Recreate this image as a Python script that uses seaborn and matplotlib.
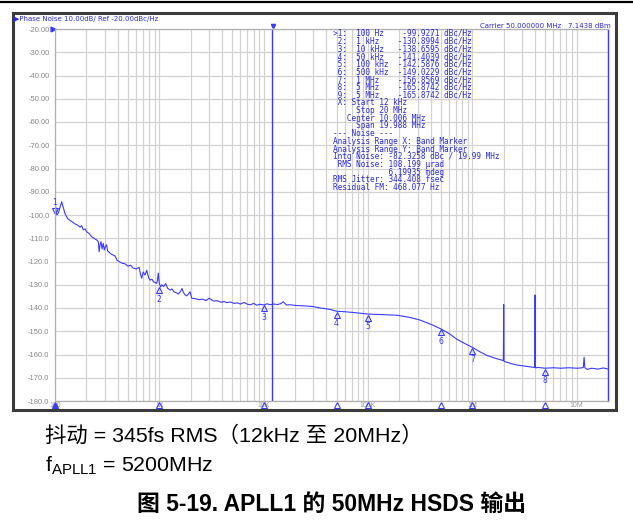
import pandas as pd
import matplotlib
matplotlib.use("Agg")
import matplotlib.pyplot as plt
import seaborn as sns
from matplotlib.patches import Rectangle
from matplotlib.lines import Line2D
from matplotlib.ticker import LogLocator, FixedLocator, NullFormatter
from matplotlib.transforms import offset_copy

# ---------------- data ----------------
freq_hz = [100, 104, 108, 112, 116, 120, 125, 132, 139, 147, 155, 164, 174, 180, 187,
           194, 201, 213, 225, 240, 252, 260, 265, 270, 276, 283, 290, 297, 305, 312,
           320, 330, 345, 360, 376, 395, 420, 445, 469, 500, 530, 560, 600, 640, 660,
           678, 700, 730, 757, 790, 814, 850, 880, 910, 944, 960, 978, 1000, 1030, 1054,
           1100, 1150, 1200, 1267, 1320, 1380, 1450, 1520, 1600, 1650, 1699, 1760, 1830,
           1900, 1969, 2045, 2200, 2400, 2600, 2800, 3000, 3300, 3600, 3900, 4200, 4429,
           4800, 5200, 5600, 6000, 6500, 7000, 7500, 8000, 8600, 9236, 10000, 10800,
           11600, 12500, 13500, 14500, 15450, 16500, 18000, 20000, 22340, 25000, 29960,
           35000, 43300, 50000, 60000, 75000, 100000, 130000, 188800, 250000, 315900,
           400000, 500000, 600000, 709600, 850000, 1000000, 1180000, 1383000, 1650000,
           1926000, 1985000, 2000000, 2015000, 2100000, 2400000, 2670000, 3200000,
           3854000, 3970000, 4000000, 4030000, 4300000, 5000000, 6000000, 7000000,
           8500000, 10000000, 11000000, 11600000, 11800000, 12000000, 12600000,
           14000000, 16000000, 18000000, 20000000]
noise_dbc = [-94.5, -100.0, -99.0, -96.5, -94.3, -96.8, -99.5, -101.5, -102.3, -103.0,
             -103.8, -104.3, -105.2, -104.6, -106.4, -106.0, -107.2, -108.0, -109.4,
             -110.2, -110.8, -111.4, -115.8, -113.0, -111.5, -114.6, -112.2, -115.0,
             -113.5, -112.8, -115.5, -116.0, -116.8, -117.2, -117.6, -119.5, -120.3,
             -120.8, -121.0, -122.0, -121.6, -122.8, -123.2, -122.5, -125.5, -127.2,
             -124.5, -125.8, -123.8, -127.0, -128.0, -127.6, -128.8, -129.0, -129.4,
             -128.0, -125.0, -129.5, -131.0, -130.0, -130.8, -129.5, -131.5, -132.3,
             -131.8, -133.0, -133.4, -134.0, -132.8, -131.6, -133.2, -134.3, -134.8,
             -134.0, -133.0, -135.8, -136.0, -136.4, -136.2, -136.8, -135.8, -137.0,
             -136.9, -137.5, -137.2, -137.7, -137.4, -138.0, -137.8, -138.3, -137.6,
             -138.4, -138.6, -138.0, -138.8, -138.4, -138.7, -138.2, -138.6, -138.3,
             -138.5, -138.2, -137.3, -138.7, -138.6, -138.9, -139.0, -139.1, -139.4,
             -140.0, -140.6, -141.4, -141.6, -142.0, -142.6, -142.8, -143.1, -144.0,
             -145.2, -147.0, -149.0, -151.0, -153.4, -155.3, -156.9, -158.8, -160.4,
             -161.6, -162.4, -162.6, -138.5, -163.0, -163.2, -164.0, -164.5, -165.0,
             -165.5, -165.6, -134.4, -165.7, -165.6, -165.9, -165.7, -165.9, -165.7,
             -165.9, -165.8, -165.6, -161.2, -165.7, -166.4, -165.9, -166.3, -165.8,
             -166.2]

marker_ids = ["1", "2", "3", "4", "5", "6", "7", "8"]
marker_freq = [100, 1000, 10000, 50000, 100000, 500000, 1000000, 5000000]
marker_dbc = [-99.9271, -130.8994, -138.6595, -141.4039, -142.5876, -149.0229,
              -156.8569, -165.8742]

y_ticks = [-20, -30, -40, -50, -60, -70, -80, -90, -100, -110, -120, -130, -140,
           -150, -160, -170, -180]
y_labels = ["-20.00", "-30.00", "-40.00", "-50.00", "-60.00", "-70.00", "-80.00",
            "-90.00", "-100.0", "-110.0", "-120.0", "-130.0", "-140.0", "-150.0",
            "-160.0", "-170.0", "-180.0"]
x_ticks = [100, 1000, 10000, 100000, 1000000, 10000000]
x_labels = ["100", "1K", "10K", "100K", "1M", "10M"]

table_lines = [
    ">1:  100 Hz    -99.9271 dBc/Hz",
    " 2:  1 kHz    -130.8994 dBc/Hz",
    " 3:  10 kHz   -138.6595 dBc/Hz",
    " 4:  50 kHz   -141.4039 dBc/Hz",
    " 5:  100 kHz  -142.5876 dBc/Hz",
    " 6:  500 kHz  -149.0229 dBc/Hz",
    " 7:  1 MHz    -156.8569 dBc/Hz",
    " 8:  5 MHz    -165.8742 dBc/Hz",
    " 9:  5 MHz    -165.8742 dBc/Hz",
    " X: Start 12 kHz",
    "     Stop 20 MHz",
    "   Center 10.006 MHz",
    "     Span 19.988 MHz",
    "--- Noise ---",
    "Analysis Range X: Band Marker",
    "Analysis Range Y: Band Marker",
    "Intg Noise: -82.3258 dBc / 19.99 MHz",
    " RMS Noise: 108.199 \u00b5rad",
    "            6.19935 mdeg",
    "RMS Jitter: 344.408 fsec",
    "Residual FM: 468.077 Hz",
]

df = pd.DataFrame({"freq": freq_hz, "noise": noise_dbc})

# ---------------- figure ----------------
W, H = 633, 529
blue = "#3a3aff"
txt_blue = "#2b2bd9"
grid_gray = "#d2d2d2"

plt.rcParams["font.family"] = ["Liberation Sans", "Noto Sans CJK SC"]
plt.rcParams["mathtext.fontset"] = "custom"
plt.rcParams["mathtext.rm"] = "Liberation Sans"

fig = plt.figure(figsize=(W / 100, H / 100), dpi=100)


def px(x, y):
    return x / W, 1 - y / H


ax = fig.add_axes([55 / W, 1 - 401 / H, (608 - 55) / W, (401 - 29) / H])
sns.lineplot(data=df, x="freq", y="noise", ax=ax, color=blue, lw=0.8,
             estimator=None, sort=False)
ax.set_xscale("log")
ax.set_xlim(100, 20e6)
ax.set_ylim(-180, -20)
ax.set_xlabel("")
ax.set_ylabel("")

ax.xaxis.set_major_locator(FixedLocator(x_ticks))
ax.set_xticklabels(x_labels)
ax.xaxis.set_minor_locator(LogLocator(base=10, subs=range(2, 10)))
ax.xaxis.set_minor_formatter(NullFormatter())
ax.set_yticks(y_ticks)
ax.set_yticklabels(y_labels)
ax.grid(True, which="both", axis="x", color=grid_gray, lw=0.9)
ax.grid(True, which="major", axis="y", color=grid_gray, lw=0.9)
ax.tick_params(which="both", length=0)
ax.tick_params(axis="y", labelsize=5.5, labelcolor="#888888", pad=4)
ax.tick_params(axis="x", labelsize=5, labelcolor="#999999", pad=1)
for s in ["left", "top", "bottom"]:
    ax.spines[s].set_color("#b0b0b0")
    ax.spines[s].set_linewidth(0.9)
ax.spines["right"].set_color(blue)
ax.spines["right"].set_linewidth(1.0)

# band marker start line at 12 kHz
ax.axvline(12000, color=blue, lw=1.0)
flag = offset_copy(ax.transData, fig=fig, x=1.5, y=3, units="dots")
ax.plot([12000], [-20], marker="v", ms=3, color=blue, transform=flag, clip_on=False)
ref = offset_copy(ax.transData, fig=fig, x=-2, y=0, units="dots")
ax.plot([100], [-20], marker=">", ms=3.5, color=blue, transform=ref, clip_on=False)

# markers on the trace
tri_dn = offset_copy(ax.transData, fig=fig, x=0, y=-3.5, units="dots")
num_dn = offset_copy(ax.transData, fig=fig, x=0, y=-12.5, units="dots")
tri_up = offset_copy(ax.transData, fig=fig, x=0, y=3.5, units="dots")
num_up = offset_copy(ax.transData, fig=fig, x=0, y=12, units="dots")
for mid, mf, mv in zip(marker_ids, marker_freq, marker_dbc):
    if mid == "1":
        ax.plot([mf], [mv], marker="v", ms=5, mfc="none", mec=blue, mew=0.8,
                transform=tri_up, clip_on=False)
        ax.text(mf, mv, mid, transform=num_up, ha="center", va="center",
                fontsize=5.5, color=blue, family="DejaVu Sans")
    else:
        ax.plot([mf], [mv], marker="^", ms=5, mfc="none", mec=blue, mew=0.8,
                transform=tri_dn, clip_on=False)
        ax.text(mf, mv, mid, transform=num_dn, ha="center", va="center",
                fontsize=5.5, color=blue, family="DejaVu Sans")
    # marker positions on the x axis
    ax.plot([mf], [-180], marker="^", ms=4.5,
            mfc=blue if mid == "1" else "none", mec=blue, mew=0.8,
            transform=tri_dn, clip_on=False)

# marker table
for i, line in enumerate(table_lines):
    fig.text(*px(333, 33.5 + i * 7.7), line, ha="left", va="center",
             fontsize=5.6, color=txt_blue, family="DejaVu Sans Mono")

# header texts
fig.text(*px(14, 19), "\u25b6Phase Noise 10.00dB/ Ref -20.00dBc/Hz", ha="left",
         va="center", fontsize=5, color=txt_blue, family="DejaVu Sans")
fig.text(*px(480, 25.5), "Carrier 50.000000 MHz", ha="left", va="center",
         fontsize=5, color=txt_blue, family="DejaVu Sans")
fig.text(*px(568, 25.5), "7.1438 dBm", ha="left", va="center",
         fontsize=5, color=txt_blue, family="DejaVu Sans")

# screenshot frame and top rule
fig.patches.append(Rectangle(px(13, 410), (616 - 13) / W, (410 - 13) / H,
                             transform=fig.transFigure, fill=False,
                             ec="#3c3c3c", lw=2.2))
fig.add_artist(Line2D([0, 1], [1 - 2 / H] * 2, color="black", lw=1.6))

# captions below the screenshot
fig.text(*px(45, 436), "抖动 = 345fs RMS（12kHz 至 20MHz）", ha="left",
         va="center", fontsize=15.4, color="black")
fig.text(*px(45, 466), r"f$_{\mathrm{APLL1}}$ = 5200MHz", ha="left",
         va="center", fontsize=15.4, color="black")
fig.text(*px(332, 504), "图 5-19. APLL1 的 50MHz HSDS 输出", ha="center",
         va="center", fontsize=16.5, fontweight="bold", color="black")

fig.savefig("out.png", dpi=100)
